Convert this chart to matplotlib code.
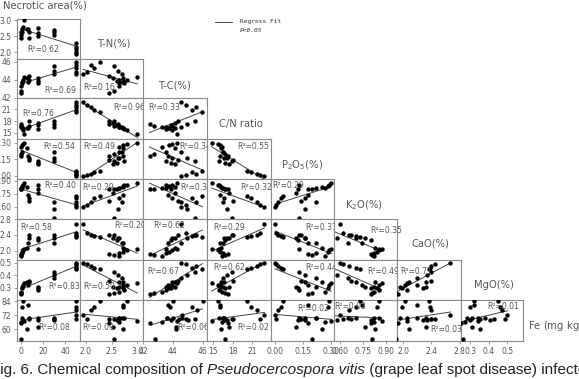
import numpy as np
import matplotlib
matplotlib.use("Agg")
import matplotlib.pyplot as plt

# ---------------- data (one entry per leaf sample) ----------------
necrotic = [3, 2, 1, 5, 0, 1, 0, 0, 6, 7, 7, 15, 15, 15, 30, 30, 30, 50, 50, 50, 50, 50]
t_n = [3.00, 2.80, 2.72, 2.72, 2.64, 2.64, 2.55, 2.46, 2.72, 2.64, 2.46, 2.75, 2.60, 2.52,
       2.70, 2.62, 2.54, 2.28, 2.17, 2.10, 2.02, 1.95]
t_c = [44.3, 44.0, 43.8, 44.2, 43.3, 43.6, 42.8, 42.5, 43.7, 44.0, 44.4, 43.6, 43.9, 44.2,
       44.6, 45.0, 45.5, 46.0, 45.3, 45.6, 44.9, 44.6]
c_n = [14.8, 15.7, 16.1, 16.3, 16.4, 16.5, 16.8, 17.3, 16.1, 16.7, 18.0, 15.9, 16.9, 17.5,
       16.5, 17.2, 17.9, 20.2, 20.9, 21.7, 22.2, 22.9]
p2o5 = [0.30, 0.29, 0.28, 0.25, 0.265, 0.22, 0.195, 0.175, 0.175, 0.16, 0.14, 0.13, 0.12, 0.11,
        0.22, 0.16, 0.13, 0.045, 0.03, 0.015, 0.005, 0.0]
k2o = [0.87, 0.85, 0.84, 0.83, 0.82, 0.82, 0.81, 0.80, 0.74, 0.70, 0.67, 0.85, 0.80, 0.76,
       0.65, 0.58, 0.475, 0.73, 0.70, 0.66, 0.62, 0.60]
cao = [2.05, 2.02, 1.98, 2.08, 1.86, 1.95, 1.90, 1.92, 2.19, 2.32, 2.40, 2.05, 2.28, 2.32,
       2.20, 2.33, 2.40, 2.36, 2.38, 2.40, 2.45, 2.67]
mgo = [0.34, 0.32, 0.30, 0.35, 0.27, 0.31, 0.26, 0.25, 0.32, 0.343, 0.353, 0.28, 0.30, 0.31,
       0.38, 0.405, 0.426, 0.45, 0.46, 0.47, 0.49, 0.50]
fe = [67, 84, 79, 60, 66, 70, 52, 65, 81, 70, 69, 70, 68, 62, 70, 68, 69, 84, 79, 76, 69, 72]

row_vars = [t_n, t_c, c_n, p2o5, k2o, cao, mgo, fe]
col_vars = [necrotic, t_n, t_c, c_n, p2o5, k2o, cao, mgo]

# R^2 labels as printed, row by row
r2_labels = [
    ["0.62"],
    ["0.69", "0.16"],
    ["0.76", "0.96", "0.33"],
    ["0.54", "0.49", "0.34", "0.55"],
    ["0.40", "0.29", "0.37", "0.32", "0.29"],
    ["0.58", "0.20", "0.62", "0.29", "0.37", "0.35"],
    ["0.83", "0.50", "0.67", "0.62", "0.44", "0.49", "0.71"],
    ["0.08", "0.09", "0.06", "0.02", "0.02", "0.03", "0.03", "0.01"],
]

col_ticks = [[0, 20, 40], [2.0, 2.5, 3.0], [42, 44, 46], [15, 18, 21],
             [0.00, 0.15, 0.30], [0.60, 0.75, 0.90], [2.0, 2.4, 2.8], [0.3, 0.4, 0.5]]
col_ticklabels = [["0", "20", "40"], ["2.0", "2.5", "3.0"], ["42", "44", "46"], ["15", "18", "21"],
                  ["0.00", "0.15", "0.30"], ["0.60", "0.75", "0.90"], ["2.0", "2.4", "2.8"],
                  ["0.3", "0.4", "0.5"]]
row_ticks = [[2.0, 2.5, 3.0], [42, 44, 46], [15, 18, 21], [0.00, 0.15, 0.30],
             [0.60, 0.75, 0.90], [2.0, 2.4, 2.8], [0.3, 0.4, 0.5], [60, 72, 84]]
row_ticklabels = [["2.0", "2.5", "3.0"], ["42", "44", "46"], ["15", "18", "21"],
                  ["0.00", "0.15", "0.30"], ["0.60", "0.75", "0.90"], ["2.0", "2.4", "2.8"],
                  ["0.3", "0.4", "0.5"], ["60", "72", "84"]]

var_names = ["T-N(%)", "T-C(%)", "C/N ratio", "P$_2$O$_5$(%)", "K$_2$O(%)", "CaO(%)", "MgO(%)"]

# ---------------- layout (pixels) ----------------
W, H = 579, 379
col_edges = [17, 80, 143, 207, 271, 334, 397, 461, 523]
row_edges = [19, 59, 98, 139, 179, 219, 260, 300, 341]
col_lims = [(-3.6, 53.2), (1.89, 3.11), (42.07, 46.3), (14.08, 23.9),
            (-0.021, 0.314), (0.56, 0.97), (1.91, 2.82), (0.25, 0.585)]
row_lims = [(1.79, 3.04), (41.97, 46.3), (13.4, 23.9), (-0.03, 0.334),
            (0.46, 0.92), (1.77, 2.8), (0.204, 0.52), (50, 84.9)]
# R^2 label anchor (axes fraction, left, middle)
r2_pos = [
    [(0.16, 0.25)],
    [(0.44, 0.20), (0.05, 0.26)],
    [(0.09, 0.63), (0.52, 0.76), (0.08, 0.76)],
    [(0.41, 0.80), (0.05, 0.80), (0.56, 0.80), (0.47, 0.80)],
    [(0.44, 0.83), (0.03, 0.78), (0.58, 0.78), (0.52, 0.80), (0.02, 0.83)],
    [(0.05, 0.80), (0.54, 0.85), (0.16, 0.83), (0.10, 0.80), (0.54, 0.80), (0.57, 0.73)],
    [(0.49, 0.33), (0.05, 0.33), (0.06, 0.70), (0.10, 0.80), (0.54, 0.82), (0.52, 0.72), (0.05, 0.72)],
    [(0.33, 0.32), (0.03, 0.32), (0.53, 0.32), (0.48, 0.34), (0.41, 0.80), (0.01, 0.83),
     (0.52, 0.27), (0.42, 0.83)],
]
name_pos = [(97, 43), (158, 85), (219, 124), (281, 165), (345, 205), (412, 244), (474, 285)]

grey = "#555555"
frame = "#8a8a8a"
small_font = ["Liberation Sans Narrow", "DejaVu Sans"]

fig = plt.figure(figsize=(W / 100, H / 100), dpi=100)

for r in range(8):
    for c in range(r + 1):
        x0, x1 = col_edges[c], col_edges[c + 1]
        y0, y1 = row_edges[r], row_edges[r + 1]
        ax = fig.add_axes([x0 / W, 1 - y1 / H, (x1 - x0) / W, (y1 - y0) / H])
        x = np.array(col_vars[c], dtype=float)
        y = np.array(row_vars[r], dtype=float)
        ax.scatter(x, y, s=10, color="black", zorder=3, linewidths=0)
        k, b = np.polyfit(x, y, 1)
        xx = np.array([x.min(), x.max()])
        ax.plot(xx, k * xx + b, color="#444444", lw=0.7, zorder=2)
        ax.set_xlim(*col_lims[c])
        ax.set_ylim(*row_lims[r])
        for s in ax.spines.values():
            s.set_color(frame)
            s.set_linewidth(0.8)
        ax.tick_params(length=2.5, width=0.6, color=frame, labelsize=5.5,
                       labelcolor=grey, pad=1.5)
        if c == 0:
            ax.set_yticks(row_ticks[r])
            ax.set_yticklabels(row_ticklabels[r], family=small_font)
        else:
            ax.set_yticks([])
        if r == 7:
            ax.set_xticks(col_ticks[c])
            ax.set_xticklabels(col_ticklabels[c], family=small_font)
        else:
            ax.set_xticks([])
        px, py = r2_pos[r][c]
        ax.text(px, py, "R\u00b2=" + r2_labels[r][c], transform=ax.transAxes,
                fontsize=5.5, color=grey, va="center", ha="left", family=small_font,
                zorder=4)

# variable names
fig.text(3 / W, 1 - 6 / H, "Necrotic area(%)", fontsize=7.2, color=grey, va="center", ha="left")
for name, (nx, ny) in zip(var_names, name_pos):
    fig.text(nx / W, 1 - ny / H, name, fontsize=7.2, color=grey, va="center", ha="left")
fig.text(528 / W, 1 - 326 / H, "Fe (mg kg$^{-1}$)", fontsize=7.2, color=grey,
         va="center", ha="left")

# legend
fig.add_artist(plt.Line2D([215 / W, 232 / W], [1 - 22 / H, 1 - 22 / H],
                          color="#444444", lw=0.7))
fig.text(240 / W, 1 - 22 / H, "Regress Fit", fontsize=4.5, color="#333333",
         va="center", ha="left", family="DejaVu Sans Mono")
fig.text(240 / W, 1 - 31 / H, "P<0.05", fontsize=4.5, color="#333333",
         va="center", ha="left", family="DejaVu Sans Mono", style="italic")

# caption (cut at figure edges)
renderer = fig.canvas.get_renderer()
pieces = [("Fig. 6. Chemical composition of ", "normal"),
          ("Pseudocercospora vitis", "italic"),
          (" (grape leaf spot disease) infected grape leaves", "normal")]
cx = -9
for txt, st in pieces:
    t = fig.text(cx / W, 1 - 370 / H, txt, fontsize=11, color="#222222", va="center",
                 ha="left", style=st, family="Liberation Sans")
    bb = t.get_window_extent(renderer=renderer)
    cx += bb.width

fig.savefig("out.png", dpi=100)
